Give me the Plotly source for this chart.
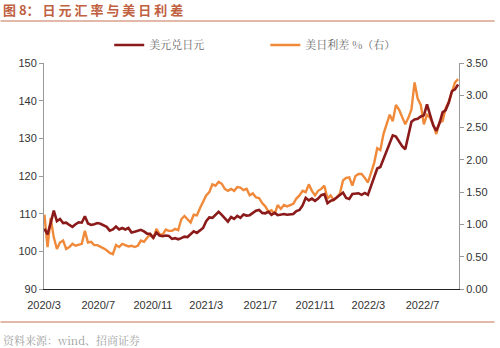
import pandas as pd
import plotly.graph_objects as go

# Weekly observations (Mondays), 2020-03-02 .. 2022-09-19
dates = pd.date_range("2020-03-02", periods=134, freq="7D")

# USD/JPY spot
usdjpy = [
    106.0, 104.5, 107.5, 110.8, 108.0, 108.6, 107.5, 107.6, 107.0, 106.5,
    107.2, 107.7, 107.6, 109.3, 107.4, 107.0, 107.2, 107.5, 107.3, 107.0,
    106.5, 105.5, 105.8, 106.6, 105.8, 106.2, 105.8, 106.2, 105.0, 105.2,
    105.5, 105.7, 105.3, 104.7, 104.6, 103.6, 105.0, 104.2, 104.0, 104.2,
    104.1, 103.3, 103.5, 103.2, 103.5, 103.9, 103.8, 104.5, 105.3, 104.9,
    105.5, 106.2, 108.0, 109.0, 108.9, 109.6, 110.5, 109.7, 108.8, 107.9,
    109.1, 108.6, 109.4, 108.9, 109.8, 109.5, 109.6, 110.2, 110.8, 111.0,
    110.2, 110.1, 110.5, 109.7, 110.2, 109.6, 109.8, 109.9, 109.7, 109.9,
    109.9, 110.7, 111.0, 112.2, 114.2, 113.5, 114.0, 113.4, 114.0, 114.9,
    115.2, 112.8, 113.4, 113.7, 114.4, 115.1, 115.6, 114.2, 113.9, 115.2,
    115.2, 115.4, 115.0, 115.5, 115.0, 117.3, 119.2, 122.0, 122.4, 124.4,
    126.5, 128.5, 130.8, 130.5, 129.2, 127.9, 127.1, 130.8, 134.4, 135.0,
    135.2, 135.8, 136.1, 139.0, 136.0, 133.4, 132.0, 134.0, 136.9, 137.5,
    139.5, 142.5, 143.0, 144.3,
]

# US 10Y minus JGB 10Y yield spread, %
spread = [
    1.15, 0.65, 1.10, 0.80, 0.62, 0.72, 0.75, 0.62, 0.65, 0.70,
    0.67, 0.69, 0.70, 0.90, 0.72, 0.73, 0.68, 0.68, 0.66, 0.63,
    0.60, 0.56, 0.54, 0.68, 0.65, 0.70, 0.68, 0.66, 0.67, 0.65,
    0.67, 0.75, 0.73, 0.80, 0.85, 0.78, 0.93, 0.85, 0.84, 0.92,
    0.90, 0.90, 0.93, 0.91, 1.08, 1.13, 1.08, 1.03, 1.15, 1.14,
    1.25, 1.35, 1.45, 1.50, 1.62, 1.60, 1.66, 1.63, 1.55, 1.52,
    1.55, 1.52, 1.58, 1.57, 1.53, 1.55, 1.45, 1.48, 1.42, 1.41,
    1.33, 1.28, 1.20, 1.22, 1.16, 1.30, 1.24, 1.30, 1.28, 1.30,
    1.32, 1.40, 1.45, 1.52, 1.50, 1.62, 1.52, 1.45, 1.52, 1.55,
    1.60, 1.40, 1.45, 1.38, 1.42, 1.48, 1.68, 1.72, 1.73, 1.60,
    1.75, 1.78, 1.78, 1.72, 1.65, 1.80, 1.95, 2.18, 2.15, 2.40,
    2.55, 2.70, 2.60, 2.85, 2.78, 2.65, 2.55, 2.65, 2.78, 3.20,
    2.95, 2.85, 2.55, 2.70, 2.65, 2.55, 2.40, 2.58, 2.60, 2.80,
    2.90, 3.05, 3.20, 3.25,
]

left_ticks = [90, 100, 110, 120, 130, 140, 150]
right_ticks = [0.0, 0.5, 1.0, 1.5, 2.0, 2.5, 3.0, 3.5]

DARK_RED = "#8B1A1A"
ORANGE = "#F08A3A"
FONT = "Liberation Sans, Arial, Noto Sans CJK SC, sans-serif"
CJK = "Noto Serif CJK SC, Noto Sans CJK SC, sans-serif"

fig = go.Figure()

# spread on the primary (right-hand) axis, drawn underneath
fig.add_trace(go.Scatter(
    x=dates, y=spread, name="美日利差 %（右）", mode="lines",
    line=dict(color=ORANGE, width=2.4), yaxis="y", legend="legend2",
))
# USD/JPY on the overlaying left axis, drawn on top
fig.add_trace(go.Scatter(
    x=dates, y=usdjpy, name="美元兑日元", mode="lines",
    line=dict(color=DARK_RED, width=2.6), yaxis="y2", legend="legend",
))

axis_font = dict(family=FONT, size=11, color="#333333")
legend_font = dict(family=CJK, size=11, color="#666666")
PW, PH = 420, 226  # plot area in pixels


def px_x(px):
    return (px - 44) / PW


def px_y(py):
    return 1 + (63 - py) / PH


fig.update_layout(
    width=500, height=348,
    margin=dict(l=44, r=36, t=63, b=59),
    paper_bgcolor="white", plot_bgcolor="white",
    font=dict(family=FONT, size=11, color="#333333"),
    showlegend=True,
    legend=dict(
        orientation="h", x=px_x(110), y=px_y(45), xanchor="left", yanchor="middle",
        itemwidth=30, font=legend_font, bgcolor="rgba(0,0,0,0)",
    ),
    legend2=dict(
        orientation="h", x=px_x(268), y=px_y(45), xanchor="left", yanchor="middle",
        itemwidth=30, font=legend_font, bgcolor="rgba(0,0,0,0)",
    ),
    xaxis=dict(
        type="date",
        range=["2020-03-01", "2022-09-21"],
        tick0="2020-03-01", dtick="M4", tickformat="%Y/%-m",
        showgrid=False, zeroline=False,
        showline=True, linecolor="#222222", linewidth=1,
        ticks="", tickfont=axis_font, ticklabelstandoff=6,
    ),
    yaxis=dict(
        side="right", range=[0, 3.5], tickvals=right_ticks, tickformat=".2f",
        showgrid=False, zeroline=False,
        showline=True, linecolor="#999999", linewidth=1,
        ticks="outside", ticklen=4, tickcolor="#999999", tickfont=axis_font,
    ),
    yaxis2=dict(
        overlaying="y", side="left", range=[90, 150], tickvals=left_ticks,
        showgrid=False, zeroline=False,
        showline=True, linecolor="#999999", linewidth=1,
        ticks="outside", ticklen=4, tickcolor="#999999", tickfont=axis_font,
    ),
)

# header, footer and rules
fig.add_annotation(
    text="<b>图 8： 日 元 汇 率 与 美 日 利 差</b>", xref="paper", yref="paper",
    x=px_x(0), y=px_y(10), xanchor="left", yanchor="middle",
    showarrow=False,
    font=dict(family="Noto Sans CJK SC, sans-serif", size=13, color="#C0603F"),
)
fig.add_shape(
    type="line", xref="paper", yref="paper",
    x0=px_x(0), x1=px_x(500), y0=px_y(21), y1=px_y(21),
    line=dict(color="#D9A08C", width=1.5),
)
fig.add_shape(
    type="line", xref="paper", yref="paper",
    x0=px_x(0), x1=px_x(500), y0=px_y(322), y1=px_y(322),
    line=dict(color="#D9A08C", width=1.5),
)
fig.add_annotation(
    text="资料来源：wind、招商证券", xref="paper", yref="paper",
    x=px_x(0), y=px_y(340), xanchor="left", yanchor="middle",
    showarrow=False,
    font=dict(family=CJK, size=11, color="#A0A0A0"),
)

fig.write_html("out.html")
